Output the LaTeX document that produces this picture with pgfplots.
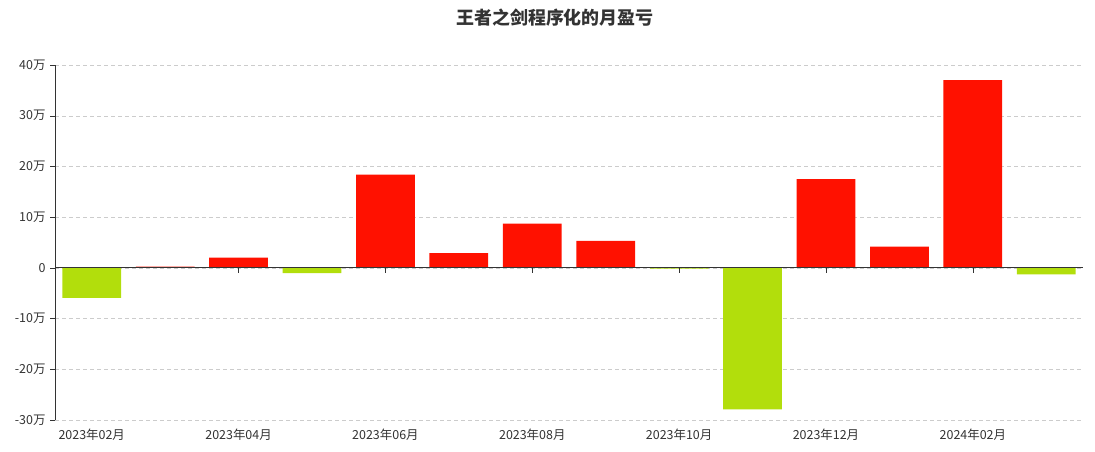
\documentclass[border=0pt]{standalone}
\usepackage{pgfplots}
\pgfplotsset{compat=1.18}
\usepackage{fontspec}
\setmainfont{Noto Sans CJK SC}
\definecolor{barred}{HTML}{FF1100}
\definecolor{bargreen}{HTML}{B2DE0C}
\definecolor{txt}{HTML}{333333}
\definecolor{gridc}{HTML}{CCCCCC}

\begin{document}
\begin{tikzpicture}[x=1bp,y=1bp]
\path[use as bounding box] (0,0) rectangle (1095,452);
\node[font=\fontsize{18}{20}\selectfont\bfseries, text=txt] at (555,434) {王者之剑程序化的月盈亏};
\begin{axis}[
  at={(55bp,32bp)}, anchor=south west,
  scale only axis, width=1028bp, height=355bp,
  xmin=-0.5, xmax=13.5, ymin=-30, ymax=40,
  axis x line*=bottom, axis y line*=left,
  x axis line style={draw=none},
  y axis line style={txt, line width=0.8pt},
  xtick={0,2,...,12},
  xticklabels={2023年02月,2023年04月,2023年06月,2023年08月,2023年10月,2023年12月,2024年02月},
  xtick style={draw=none},
  ytick={-30,-20,...,40},
  yticklabels={-30万,-20万,-10万,0,10万,20万,30万,40万},
  ytick style={txt},
  tick align=outside, major tick length=5bp,
  ymajorgrids, grid style={gridc, dash pattern=on 4bp off 3bp},
  tick label style={font=\fontsize{12.5}{14}\selectfont, text=txt},
  yticklabel style={xshift=-1bp},
  ybar, bar width=0.8,
]
\addplot[fill=barred, draw=none, bar shift=0pt] coordinates {
  (1,0.25) (2,2.0) (4,18.4) (5,2.9) (6,8.7) (7,5.3) (10,17.5) (11,4.2) (12,37.0)
};
\addplot[fill=bargreen, draw=none, bar shift=0pt] coordinates {
  (0,-5.9) (3,-1.05) (8,-0.15) (9,-27.9) (13,-1.3)
};
\draw[txt, line width=0.8pt] (axis cs:-0.5,0) -- (axis cs:13.5,0);
\pgfplotsinvokeforeach{2,4,...,12}{\draw[txt] (axis cs:#1,0) -- ++(0bp,-5bp);}
\end{axis}
\end{tikzpicture}
\end{document}
